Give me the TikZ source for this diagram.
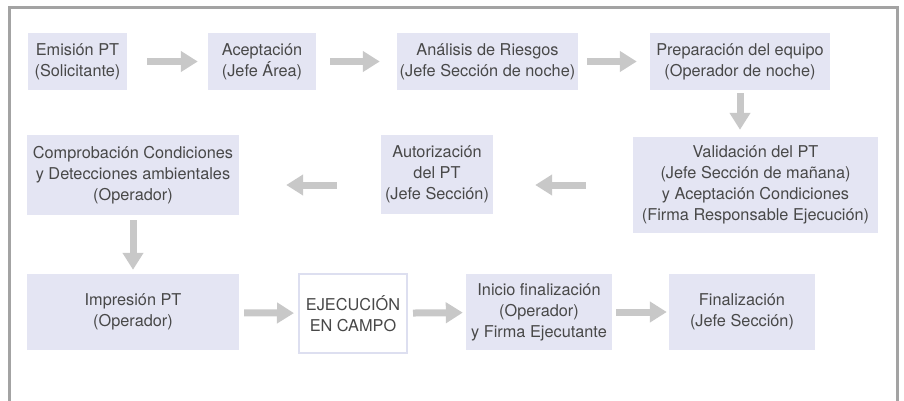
\documentclass[tikz,border=0pt]{standalone}
\usepackage{fontspec}
\setmainfont{TeX Gyre Heros}
\usetikzlibrary{arrows.meta}
\definecolor{lavanda}{HTML}{E4E5F3}
\definecolor{borde}{HTML}{DDDFF0}
\definecolor{gris}{HTML}{C8C8C8}
\definecolor{marco}{HTML}{A3A3A3}
\definecolor{texto}{HTML}{484848}
\begin{document}
\begin{tikzpicture}[x=1pt,y=-1pt,
caja/.style={fill=lavanda,text=texto,align=center,inner sep=0pt,font=\fontsize{16.3}{21}\selectfont},
flecha/.style={draw=gris,line width=7pt,-{Triangle[length=17pt,width=20pt]}}]
\useasboundingbox (0,0) rectangle (904,401);
\draw[marco,line width=3pt] (9.5,401) -- (9.5,7.5) -- (897.5,7.5) -- (897.5,401);
\node[caja,minimum width=99pt,minimum height=57pt] (emision) at (77.5,61.5) {Emisión PT\\(Solicitante)};
\node[caja,minimum width=108pt,minimum height=57pt] (aceptacion) at (262,61.5) {Aceptación\\(Jefe Área)};
\node[caja,minimum width=181pt,minimum height=57pt] (analisis) at (487.5,61.5) {Análisis de Riesgos\\(Jefe Sección de noche)};
\node[caja,minimum width=180pt,minimum height=57pt] (preparacion) at (740,61.5) {Preparación del equipo\\(Operador de noche)};
\node[caja,minimum width=245pt,minimum height=96pt] (validacion) at (755.5,185) {Validación del PT\\(Jefe Sección de mañana)\\y Aceptación Condiciones\\(Firma Responsable Ejecución)};
\node[caja,minimum width=112pt,minimum height=79pt] (autorizacion) at (437,174.5) {Autorización\\del PT\\(Jefe Sección)};
\node[caja,minimum width=212pt,minimum height=80pt] (comprobacion) at (133,175) {Comprobación Condiciones\\y Detecciones ambientales\\(Operador)};
\node[caja,minimum width=212pt,minimum height=76pt] (impresion) at (133,312) {Impresión PT\\(Operador)};
\node[caja,fill=white,draw=borde,line width=2pt,minimum width=108pt,minimum height=79pt] (ejecucion) at (353,313.5) {EJECUCIÓN\\EN CAMPO};
\node[caja,minimum width=146pt,minimum height=76pt] (inicio) at (539,312) {Inicio finalización\\(Operador)\\y Firma Ejecutante};
\node[caja,minimum width=146pt,minimum height=76pt] (finalizacion) at (742,312) {Finalización\\(Jefe Sección)};
\coordinate (fila) at (0,185);
\draw[flecha,shorten <=20pt,shorten >=10pt] (emision) -- (aceptacion);
\draw[flecha,shorten <=14pt,shorten >=17pt] (aceptacion) -- (analisis);
\draw[flecha,shorten <=9pt,shorten >=13pt] (analisis) -- (preparacion);
\draw[flecha,shorten <=3pt,shorten >=7pt] (preparacion.south) -- (preparacion.south |- validacion.north);
\draw[flecha,shorten <=47pt,shorten >=42pt] (validacion.west |- fila) -- (autorizacion.east |- fila);
\draw[flecha,shorten <=44pt,shorten >=47pt] (autorizacion.west |- fila) -- (comprobacion.east |- fila);
\draw[flecha,shorten <=5pt,shorten >=4pt] (comprobacion) -- (impresion);
\draw[flecha,shorten <=5pt,shorten >=4pt] (impresion) -- (ejecucion);
\draw[flecha,shorten <=5pt,shorten >=3pt] (ejecucion) -- (inicio);
\draw[flecha,shorten <=4pt,shorten >=2pt] (inicio) -- (finalizacion);
\end{tikzpicture}
\end{document}
